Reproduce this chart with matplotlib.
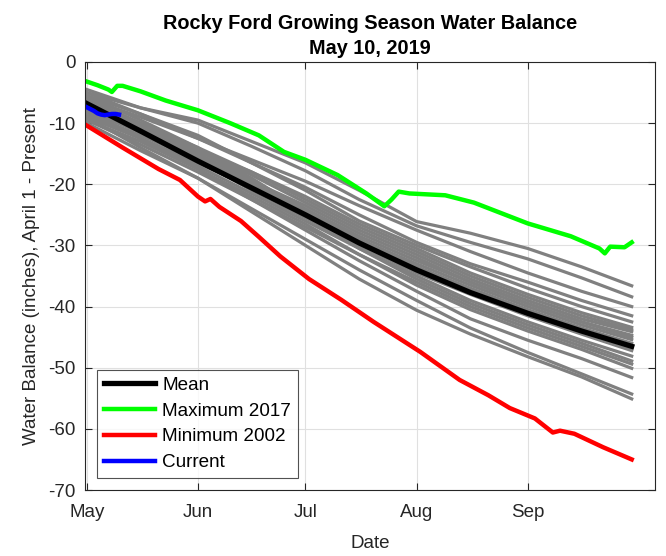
import matplotlib
matplotlib.use('Agg')
import matplotlib.pyplot as plt

plt.rcParams['font.family'] = ['Liberation Sans', 'DejaVu Sans']
plt.rcParams['axes.unicode_minus'] = False

# days since May 1
grid_days = [0, 15, 31, 46, 61, 76, 92, 107, 123, 138, 152]

# other years (grey)
years_gray = [
    [-5.0, -7.5, -9.5, -13.0, -16.5, -21.0, -26.1, -28.0, -30.5, -33.5, -36.6],
    [-4.5, -7.5, -10.0, -13.8, -17.8, -22.5, -26.8, -29.5, -32.2, -35.3, -38.4],
    [-6.0, -9.0, -12.5, -16.0, -19.5, -23.5, -27.5, -31.0, -34.5, -37.5, -40.0],
    [-5.5, -8.5, -12.0, -16.5, -20.5, -25.0, -29.5, -33.0, -36.0, -39.0, -41.5],
    [-6.5, -10.0, -14.0, -18.0, -22.0, -26.5, -30.5, -34.5, -38.0, -41.0, -43.4],
    [-7.0, -10.5, -14.5, -18.5, -23.0, -27.5, -31.5, -35.5, -39.0, -42.0, -44.1],
    [-8.0, -11.5, -15.0, -19.5, -24.0, -28.5, -32.5, -36.0, -39.5, -42.5, -44.7],
    [-6.0, -10.0, -14.5, -19.0, -24.5, -29.0, -33.0, -36.5, -40.0, -43.0, -45.4],
    [-9.0, -12.5, -16.5, -20.5, -24.5, -29.0, -33.5, -37.0, -40.5, -43.5, -46.0],
    [-7.5, -11.5, -16.0, -21.0, -25.5, -30.0, -34.5, -38.0, -41.5, -44.5, -47.2],
    [-8.5, -12.5, -17.0, -21.5, -26.0, -30.5, -35.0, -39.0, -42.5, -45.5, -48.1],
    [-5.5, -9.5, -14.0, -19.5, -25.0, -30.5, -35.5, -39.5, -43.0, -46.0, -48.9],
    [-9.5, -13.5, -18.0, -22.5, -27.0, -31.5, -36.5, -40.5, -44.0, -47.0, -50.1],
    [-8.0, -12.5, -17.5, -22.5, -27.5, -32.5, -37.5, -42.0, -45.5, -48.5, -51.6],
    [-10.0, -14.5, -19.0, -24.0, -29.0, -34.0, -39.0, -43.5, -47.5, -51.0, -54.3],
    [-9.0, -14.0, -19.0, -24.5, -30.0, -35.5, -40.6, -44.5, -48.2, -51.5, -55.1],
    [-7.0, -11.0, -15.5, -20.0, -24.5, -29.0, -33.5, -37.5, -41.0, -44.0, -46.6],
    [-6.5, -10.5, -15.0, -19.5, -23.5, -28.0, -32.0, -36.0, -39.5, -42.5, -45.0],
    [-8.5, -12.0, -16.0, -20.0, -25.0, -29.5, -34.0, -37.5, -41.0, -44.0, -46.8],
    [-7.5, -11.0, -14.5, -18.0, -22.5, -27.0, -31.0, -35.0, -38.5, -41.5, -43.8],
    [-5.0, -8.5, -12.5, -16.5, -21.0, -26.0, -30.0, -33.5, -37.0, -40.0, -42.5],
    [-9.5, -13.0, -17.5, -22.0, -26.5, -31.5, -36.0, -40.0, -43.5, -46.5, -49.4],
]

mean_vals = [-6.8, -11.3, -16.2, -20.6, -25.0, -29.6, -34.0, -37.7, -41.1, -44.0, -46.5]

max_days = [0, 3, 6, 7, 8.5, 10, 15, 22, 31, 40, 48, 55, 61, 70, 78, 83, 85, 87, 90,
            100, 108, 123, 135, 143, 144.5, 146, 150, 152]
max_vals = [-3.2, -3.8, -4.5, -4.9, -3.9, -3.9, -4.8, -6.3, -7.9, -10.0, -12.0, -14.7,
            -16.0, -18.5, -21.5, -23.6, -22.5, -21.2, -21.5, -21.8, -23.0, -26.4, -28.5,
            -30.5, -31.3, -30.2, -30.3, -29.5]

min_days = [0, 10, 20, 26, 31, 33, 34.5, 37, 43, 48, 54, 62, 71, 80, 93, 104, 112, 118,
            125, 130, 132, 136, 144, 152]
min_vals = [-10.4, -14.0, -17.5, -19.3, -22.0, -22.8, -22.4, -23.7, -26.0, -28.6, -31.8,
            -35.5, -38.9, -42.5, -47.4, -52.0, -54.5, -56.6, -58.3, -60.6, -60.3, -60.8,
            -63.0, -65.0]

cur_days = [0, 1, 2, 3, 4, 5, 6, 7, 8, 9]
cur_vals = [-7.4, -7.7, -8.0, -8.4, -8.6, -8.7, -8.6, -8.5, -8.5, -8.6]

month_ticks = [0, 31, 61, 92, 123]
month_labels = ['May', 'Jun', 'Jul', 'Aug', 'Sep']

fig = plt.figure(figsize=(6.66, 5.56), dpi=100)
ax = fig.add_axes([0.1276, 0.1187, 0.8559, 0.7698])

for vals in years_gray:
    ax.plot(grid_days, vals, color='#808080', lw=2.3)
ax.plot(grid_days, mean_vals, color='black', lw=3.8, label='Mean')
ax.plot(max_days, max_vals, color='#00ff00', lw=3.2, label='Maximum 2017')
ax.plot(min_days, min_vals, color='#ff0000', lw=3.2, label='Minimum 2002')
ax.plot(cur_days, cur_vals, color='#0000ff', lw=3.2, label='Current')

ax.set_xlim(-0.5, 158.5)
ax.set_ylim(-70, 0)
ax.set_xticks(month_ticks)
ax.set_xticklabels(month_labels)
ax.set_yticks(range(-70, 1, 10))
ax.grid(True, color='#e0e0e0', lw=0.8)
ax.set_axisbelow(True)
ax.tick_params(direction='in', top=True, right=True, labelsize=13.5,
               colors='#262626', length=5)
ax.tick_params(axis='x', pad=10)
ax.tick_params(axis='y', pad=7)
for s in ax.spines.values():
    s.set_color('#262626')

ax.set_xlabel('Date', fontsize=13.5, color='#262626', labelpad=10)
ax.set_ylabel('Water Balance (inches), April 1 - Present', fontsize=13.5,
              color='#262626', labelpad=6)
ax.set_title('Rocky Ford Growing Season Water Balance\nMay 10, 2019',
             fontsize=14.3, fontweight='bold', color='black', pad=6, linespacing=1.35)

leg = ax.legend(loc='lower left', fontsize=13.6, frameon=True, fancybox=False,
                edgecolor='#262626', handlelength=2.7, borderaxespad=0.65,
                labelspacing=0.45, handletextpad=0.4, borderpad=0.35)
leg.get_frame().set_linewidth(0.8)

fig.savefig('out.png', dpi=100)
